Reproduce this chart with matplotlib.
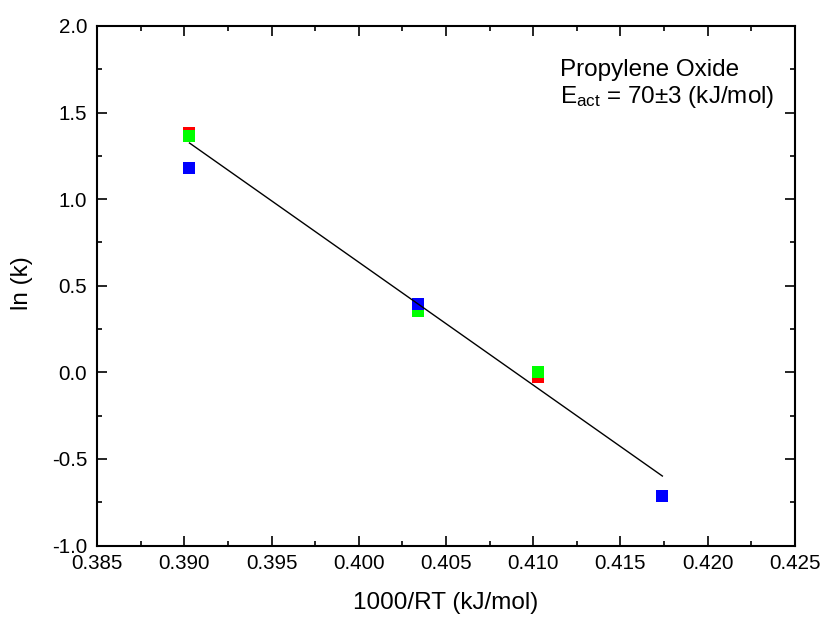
import matplotlib
matplotlib.use("Agg")
import matplotlib.pyplot as plt
from matplotlib.ticker import MultipleLocator, FormatStrFormatter

plt.rcParams['font.family'] = ['Liberation Sans', 'DejaVu Sans']
plt.rcParams['mathtext.fontset'] = 'custom'
plt.rcParams['mathtext.rm'] = 'Liberation Sans'
plt.rcParams['mathtext.it'] = 'Liberation Sans:italic'
plt.rcParams['axes.unicode_minus'] = False

# 1000/RT values (mol/kJ) for the measurement temperatures
x_red = [0.3903, 0.4034, 0.4103]
y_red = [1.382, 0.372, -0.024]

x_green = [0.3903, 0.4034, 0.4103]
y_green = [1.365, 0.357, 0.000]

x_blue = [0.3903, 0.4034, 0.4174]
y_blue = [1.181, 0.397, -0.714]

# Arrhenius fit: ln(k) = intercept + slope * (1000/RT)
fit_slope = -70.96
fit_intercept = 29.02
fit_x = [0.3903, 0.4174]

fig = plt.figure(figsize=(8.25, 6.19), dpi=100)
ax = fig.add_axes([0.1176, 0.1187, 0.9636 - 0.1176, 0.958 - 0.1187])

ms = 8
ax.plot(x_red, y_red, 's', color='#ff0000', ms=ms, mew=0, zorder=2)
ax.plot(x_green, y_green, 's', color='#00ff00', ms=ms, mew=0, zorder=3)
ax.plot(x_blue, y_blue, 's', color='#0000ff', ms=ms, mew=0, zorder=4)

fit_y = [fit_intercept + fit_slope * x for x in fit_x]
ax.plot(fit_x, fit_y, '-', color='black', lw=1.0, zorder=5)

ax.set_xlim(0.385, 0.425)
ax.set_ylim(-1.0, 2.0)
ax.xaxis.set_major_locator(MultipleLocator(0.005))
ax.xaxis.set_minor_locator(MultipleLocator(0.0025))
ax.yaxis.set_major_locator(MultipleLocator(0.5))
ax.yaxis.set_minor_locator(MultipleLocator(0.25))
ax.xaxis.set_major_formatter(FormatStrFormatter('%.3f'))
ax.yaxis.set_major_formatter(FormatStrFormatter('%.1f'))

for s in ax.spines.values():
    s.set_linewidth(1.5)

ax.tick_params(which='both', direction='in', top=True, right=True, width=1.2)
ax.tick_params(which='major', length=7, labelsize=14.8)
ax.tick_params(axis='x', which='major', pad=6.0)
ax.tick_params(axis='y', which='major', pad=7.0)
ax.tick_params(which='minor', length=3.6)

fig.text(446 / 825, 1 - 603 / 619, '1000/RT (kJ/mol)', ha='center', va='center',
         fontsize=17.5)
fig.text(22 / 825, 1 - 283 / 619, 'ln (k)', ha='center', va='center',
         rotation=90, fontsize=17.5)

ax.text(0.663, 0.9038, 'Propylene Oxide', transform=ax.transAxes,
        ha='left', va='baseline', fontsize=17.5)
ax.text(0.663, 0.8512, r'E$_{\mathrm{act}}$ = 70±3 (kJ/mol)', transform=ax.transAxes,
        ha='left', va='baseline', fontsize=17.5)

fig.savefig('out.png', dpi=100)
